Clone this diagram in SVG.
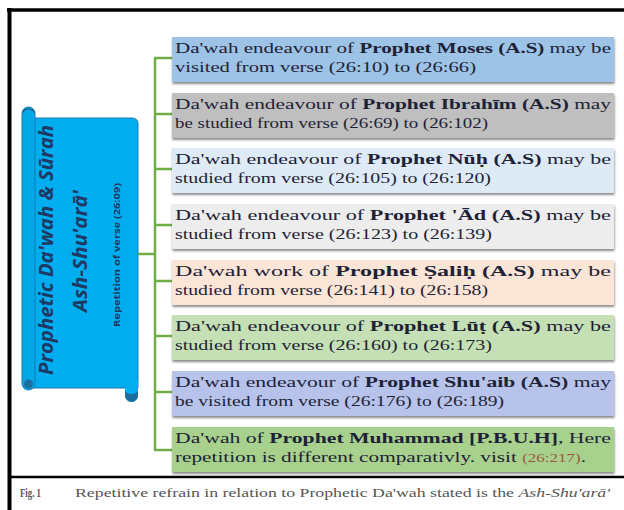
<svg xmlns="http://www.w3.org/2000/svg" width="624" height="510" viewBox="0 0 624 510">
<style>
.box{stroke:none;filter:url(#sh)}
.t{font-family:"Liberation Serif","Times New Roman",serif;font-size:15px;fill:#1d2236}
.b{font-weight:bold}
.conn{stroke:#70AD47;stroke-width:2.5;fill:none}
.scr{font-family:"Open Sans","Liberation Sans",sans-serif;font-weight:700;fill:#1F3864;text-anchor:middle}
.cap{font-family:"Liberation Serif","Times New Roman",serif;font-size:11.5px;fill:#555}
</style>
<defs>
<filter id="sh" x="-5%" y="-10%" width="110%" height="130%">
<feDropShadow dx="0.5" dy="2" stdDeviation="0.8" flood-color="#000" flood-opacity="0.45"/>
</filter>
</defs>
<rect x="0" y="0" width="624" height="510" fill="#fff"/>
<g id="frame" stroke="#000" fill="none">
<line x1="7" y1="10" x2="624" y2="10" stroke-width="3.5"/>
<line x1="9.5" y1="8" x2="9.5" y2="510" stroke-width="4"/>
<line x1="8" y1="477" x2="624" y2="477" stroke-width="2.5"/>
</g>
<g id="scroll">
<path d="M30,118 H132 Q138,118 138,124 V388 H30 Z" fill="#00AEEF" stroke="#1B78AE" stroke-width="1"/>
<rect x="22" y="107" width="13" height="283" rx="6.5" fill="#00A8E8" stroke="#1B78AE" stroke-width="1"/>
<path d="M125,380 V395.5 A6.5,6.5 0 0 0 138,395.5 V380 Z" fill="#00AEEF"/>
<path d="M125,390 V395.5 A6.5,6.5 0 0 0 138,395.5 V390 A6.5,4 0 0 1 125,390 Z" fill="#1B6E9E"/>
<circle cx="28.5" cy="384" r="4.5" fill="#1B6E9E"/>
<path d="M22.5,113 A6.5,6.5 0 0 1 34.5,113" fill="none" stroke="#1B6E9E" stroke-width="1.5"/>
<text class="scr" transform="translate(53,250) rotate(-90)" font-size="19" font-style="italic" textLength="250" lengthAdjust="spacingAndGlyphs">Prophetic Da'wah &amp; Sūrah</text>
<text class="scr" transform="translate(87,251) rotate(-90)" font-size="19" font-style="italic" textLength="122" lengthAdjust="spacingAndGlyphs">Ash-Shu'arā'</text>
<text class="scr" transform="translate(120,255) rotate(-90)" font-size="8.5" textLength="144" lengthAdjust="spacingAndGlyphs">Repetition of verse (26:09)</text>
</g>
<g id="connectors">
<line class="conn" x1="155" y1="58" x2="155" y2="450"/>
<line class="conn" x1="138" y1="254" x2="155" y2="254"/>
<line class="conn" x1="154" y1="58" x2="172" y2="58"/>
<line class="conn" x1="155" y1="114" x2="172" y2="114"/>
<line class="conn" x1="155" y1="169" x2="172" y2="169"/>
<line class="conn" x1="155" y1="225" x2="172" y2="225"/>
<line class="conn" x1="155" y1="281" x2="172" y2="281"/>
<line class="conn" x1="155" y1="336" x2="172" y2="336"/>
<line class="conn" x1="155" y1="392" x2="172" y2="392"/>
<line class="conn" x1="154" y1="450" x2="172" y2="450"/>
</g>
<g id="n1">
<rect class="box" x="172" y="37" width="442" height="45" fill="#9DC3E6"/>
<text class="t" x="175" y="53" textLength="436" lengthAdjust="spacingAndGlyphs">Da'wah endeavour of <tspan class="b">Prophet Moses (A.S)</tspan> may be</text>
<text class="t" x="175" y="72" textLength="301" lengthAdjust="spacingAndGlyphs">visited from verse (26:10) to (26:66)</text>
</g>
<g id="n2">
<rect class="box" x="172" y="93" width="442" height="45" fill="#BFBFBF"/>
<text class="t" x="175" y="109" textLength="436" lengthAdjust="spacingAndGlyphs">Da'wah endeavour of <tspan class="b">Prophet Ibrahīm (A.S)</tspan> may</text>
<text class="t" x="175" y="128" textLength="313" lengthAdjust="spacingAndGlyphs">be studied from verse (26:69) to (26:102)</text>
</g>
<g id="n3">
<rect class="box" x="172" y="148" width="442" height="45" fill="#DEEBF7"/>
<text class="t" x="175" y="164" textLength="436" lengthAdjust="spacingAndGlyphs">Da'wah endeavour of <tspan class="b">Prophet Nūḥ (A.S)</tspan> may be</text>
<text class="t" x="175" y="183" textLength="316" lengthAdjust="spacingAndGlyphs">studied from verse (26:105) to (26:120)</text>
</g>
<g id="n4">
<rect class="box" x="172" y="204" width="442" height="45" fill="#EDEDED"/>
<text class="t" x="175" y="220" textLength="436" lengthAdjust="spacingAndGlyphs">Da'wah endeavour of <tspan class="b">Prophet 'Ād (A.S)</tspan> may be</text>
<text class="t" x="175" y="239" textLength="317" lengthAdjust="spacingAndGlyphs">studied from verse (26:123) to (26:139)</text>
</g>
<g id="n5">
<rect class="box" x="172" y="260" width="442" height="45" fill="#FBE5D6"/>
<text class="t" x="175" y="276" textLength="436" lengthAdjust="spacingAndGlyphs">Da'wah work of <tspan class="b">Prophet Ṣaliḥ (A.S)</tspan> may be</text>
<text class="t" x="175" y="295" textLength="313" lengthAdjust="spacingAndGlyphs">studied from verse (26:141) to (26:158)</text>
</g>
<g id="n6">
<rect class="box" x="172" y="315" width="442" height="45" fill="#C5E0B4"/>
<text class="t" x="175" y="331" textLength="436" lengthAdjust="spacingAndGlyphs">Da'wah endeavour of <tspan class="b">Prophet Lūṭ (A.S)</tspan> may be</text>
<text class="t" x="175" y="350" textLength="317" lengthAdjust="spacingAndGlyphs">studied from verse (26:160) to (26:173)</text>
</g>
<g id="n7">
<rect class="box" x="172" y="371" width="442" height="45" fill="#B7C3EA"/>
<text class="t" x="175" y="387" textLength="436" lengthAdjust="spacingAndGlyphs">Da'wah endeavour of <tspan class="b">Prophet Shu'aib (A.S)</tspan> may</text>
<text class="t" x="175" y="406" textLength="329" lengthAdjust="spacingAndGlyphs">be visited from verse (26:176) to (26:189)</text>
</g>
<g id="n8">
<rect class="box" x="172" y="427" width="442" height="45" fill="#A9D18E"/>
<text class="t" x="175" y="443" textLength="436" lengthAdjust="spacingAndGlyphs">Da'wah of <tspan class="b">Prophet Muhammad [P.B.U.H]</tspan>, Here</text>
<text class="t" x="175" y="462" textLength="411" lengthAdjust="spacingAndGlyphs">repetition is different comparativly. visit <tspan fill="#9a5a3a" font-size="12">(26:217)</tspan>.</text>
</g>
<g id="caption">
<text class="cap b" x="20" y="497" textLength="21" lengthAdjust="spacingAndGlyphs">Fig. 1</text>
<text class="cap" x="75" y="497" textLength="535" lengthAdjust="spacingAndGlyphs">Repetitive refrain in relation to Prophetic Da'wah stated is the <tspan font-style="italic">Ash-Shu'arā'</tspan></text>
</g>
</svg>
